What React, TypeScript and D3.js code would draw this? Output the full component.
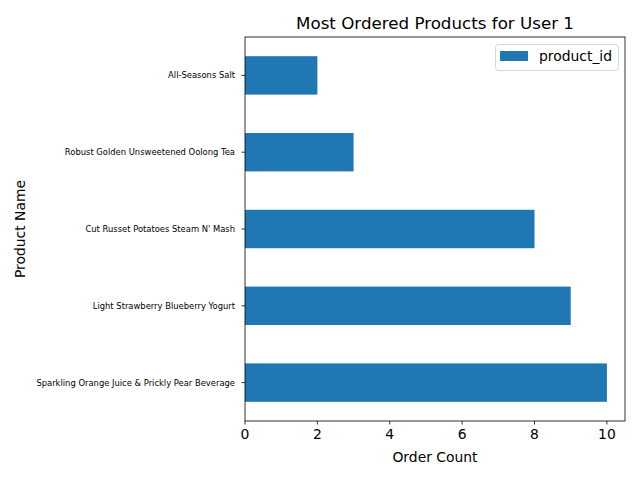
import React from "react";
import * as d3 from "d3";

const products = [
  "Sparkling Orange Juice & Prickly Pear Beverage",
  "Light Strawberry Blueberry Yogurt",
  "Cut Russet Potatoes Steam N' Mash",
  "Robust Golden Unsweetened Oolong Tea",
  "All-Seasons Salt",
];
const counts = [10, 9, 8, 3, 2];
const xTicks = [0, 2, 4, 6, 8, 10];

const W = 640, H = 480;
const L = 245, R = 625, T = 37, B = 421;
const FONT = "DejaVu Sans, sans-serif";

export default function App() {
  const x = d3.scaleLinear().domain([0, 10.5]).range([L, R]);
  const y = d3.scaleLinear().domain([-0.5, 4.5]).range([B, T]);
  const bh = y(0) - y(0.5);
  return (
    <svg width={W} height={H} style={{ position: "absolute", left: 0, top: 0 }} fontFamily={FONT}>
      <rect x={0} y={0} width={W} height={H} fill="#fff" />
      {counts.map((c, i) => (
        <rect key={i} x={x(0)} y={y(i) - bh / 2} width={x(c) - x(0)} height={bh} fill="#1f77b4" />
      ))}
      <rect x={L} y={T} width={R - L} height={B - T} fill="none" stroke="#000" strokeWidth={0.8} />
      {xTicks.map((t) => (
        <g key={t}>
          <line x1={x(t)} x2={x(t)} y1={B} y2={B + 3.5} stroke="#000" strokeWidth={0.8} />
          <text x={x(t)} y={B + 18} textAnchor="middle" fontSize={13.9} fill="#000">{t}</text>
        </g>
      ))}
      {products.map((p, i) => (
        <g key={p}>
          <line x1={L - 3.5} x2={L} y1={y(i)} y2={y(i)} stroke="#000" strokeWidth={0.8} />
          <text x={L - 10} y={y(i)} dy="0.35em" textAnchor="end" fontSize={8.4} fill="#000">{p}</text>
        </g>
      ))}
      <text x={(L + R) / 2} y={462} textAnchor="middle" fontSize={13.9}>Order Count</text>
      <text transform={`translate(25,${(T + B) / 2}) rotate(-90)`} textAnchor="middle" fontSize={13.9}>Product Name</text>
      <text x={(L + R) / 2} y={29} textAnchor="middle" fontSize={16.7}>Most Ordered Products for User 1</text>
      <g>
        <rect x={495.5} y={44.5} width={123} height={26} rx={3} fill="#fff" fillOpacity={0.8} stroke="#ccc" strokeWidth={0.8} />
        <rect x={500} y={51} width={28} height={10} fill="#1f77b4" />
        <text x={539} y={61} fontSize={13.9}>product_id</text>
      </g>
    </svg>
  );
}
